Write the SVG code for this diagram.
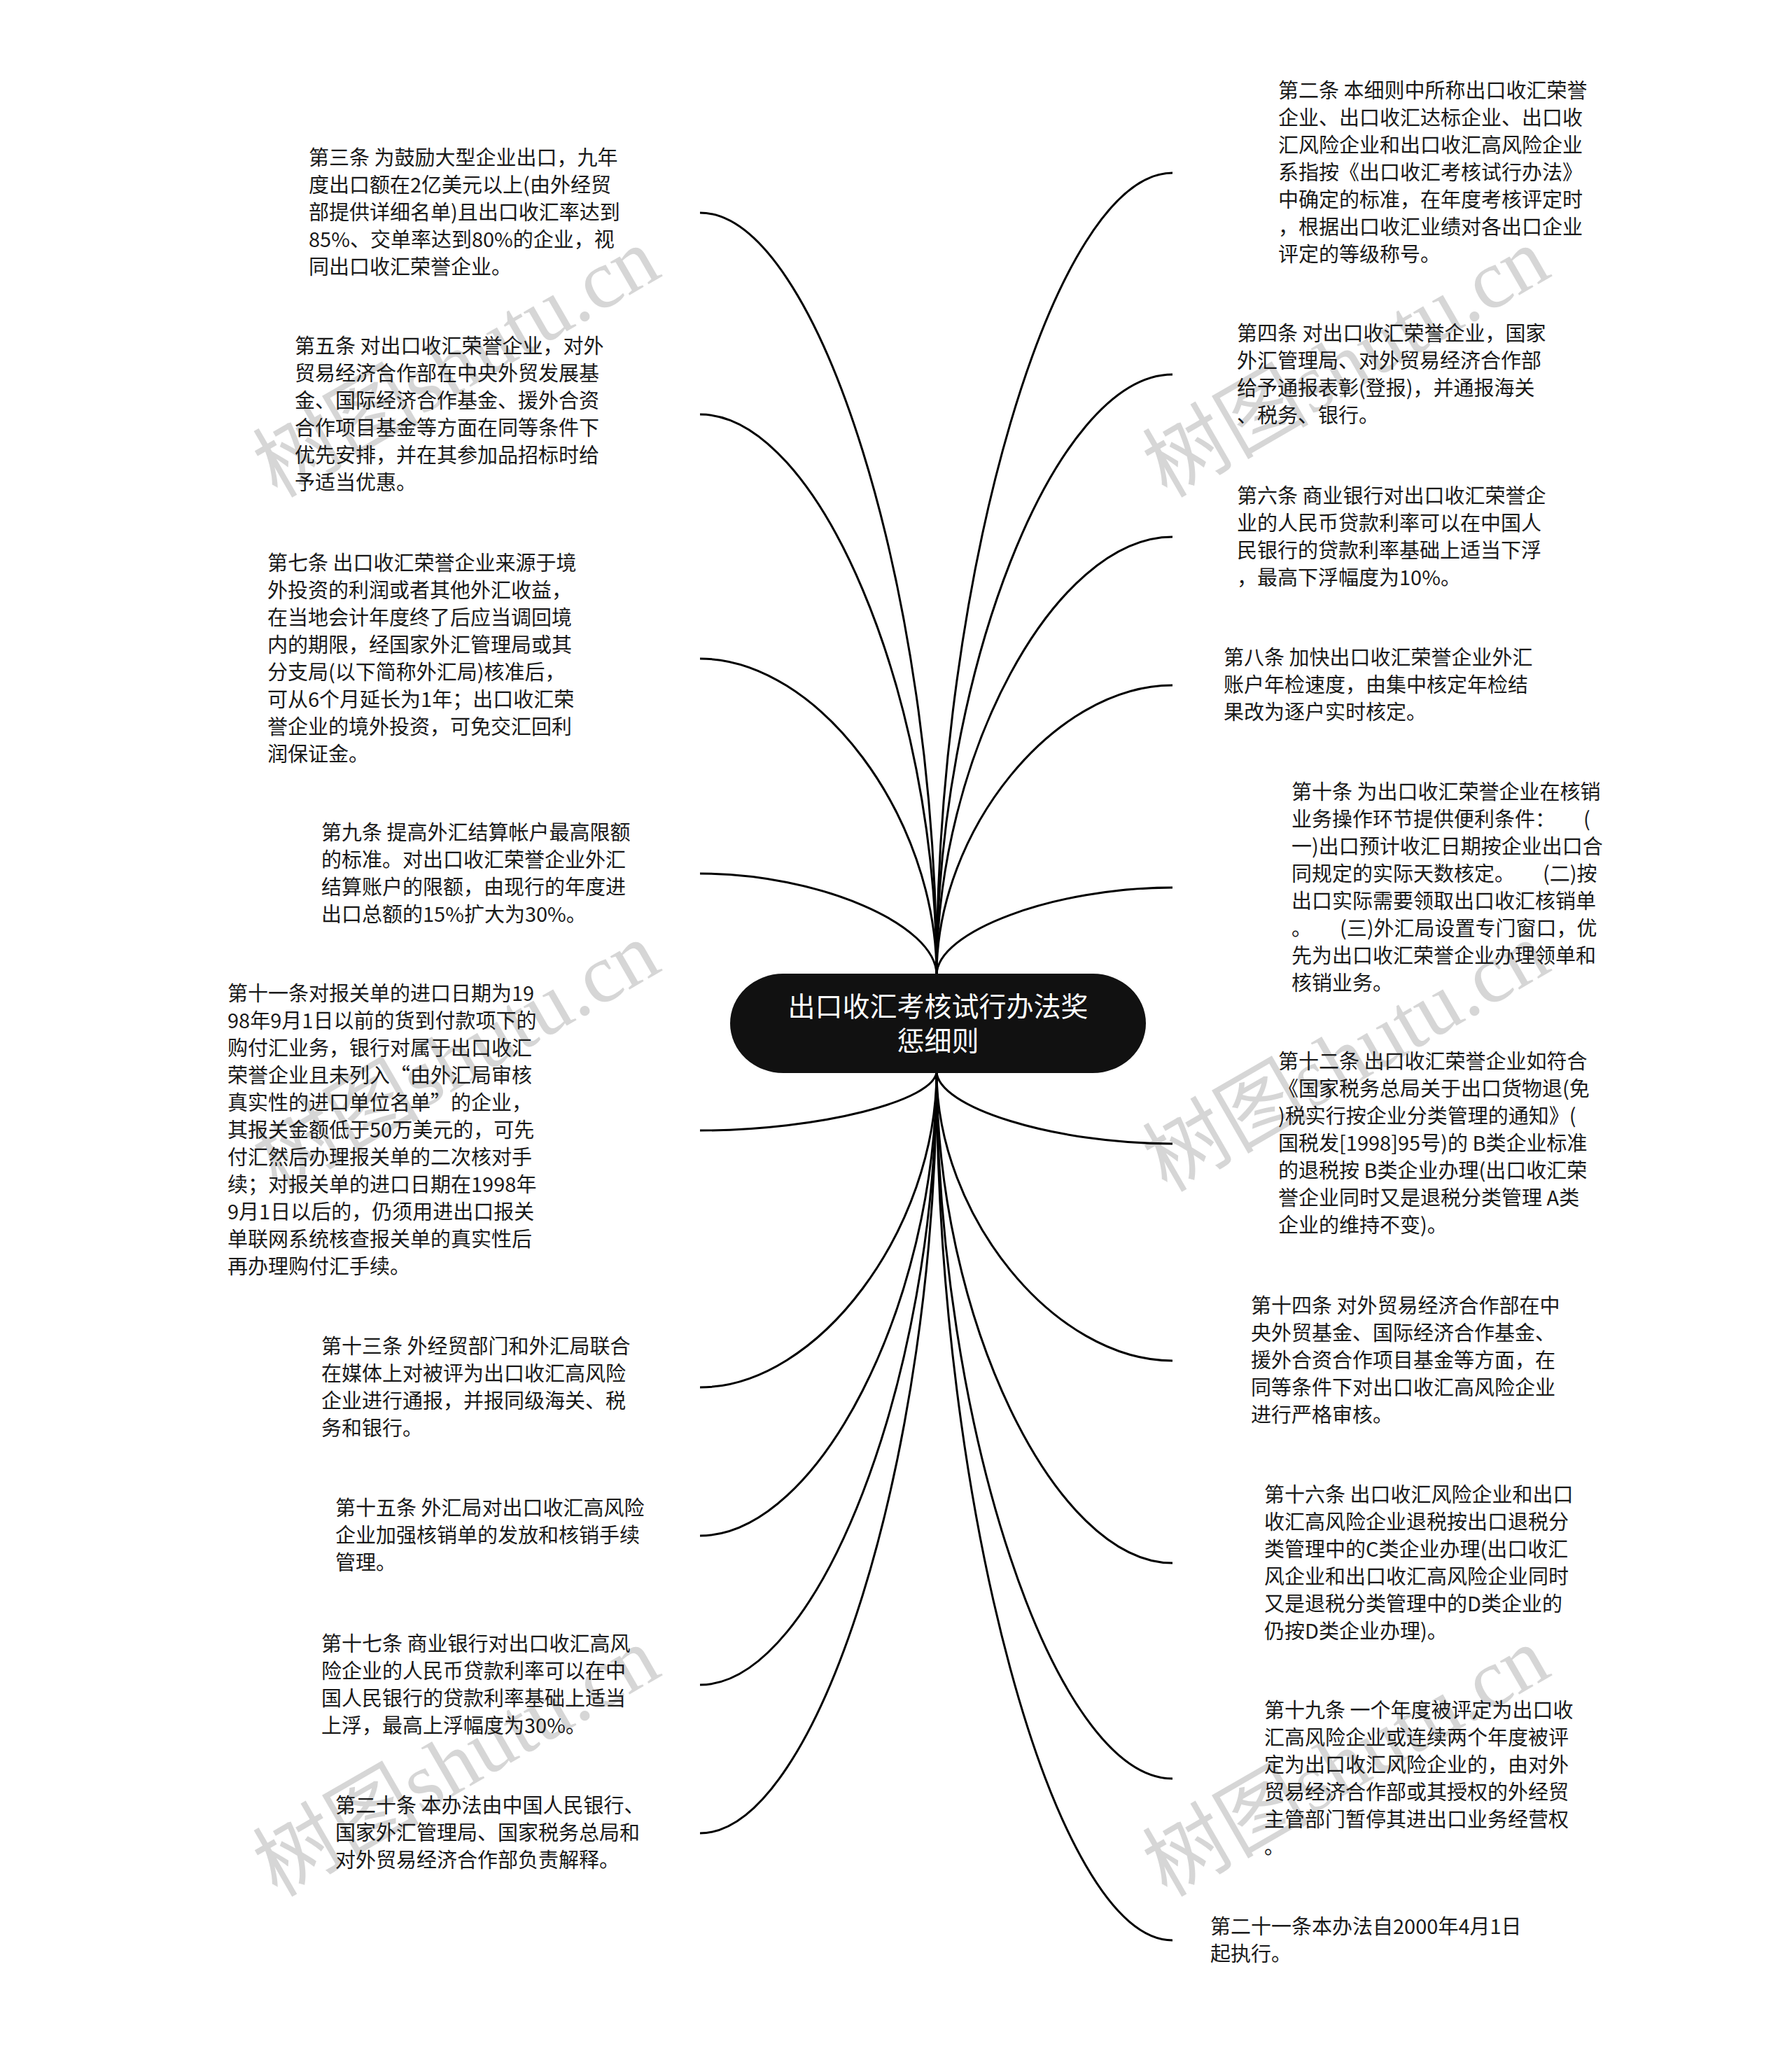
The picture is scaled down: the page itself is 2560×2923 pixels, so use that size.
<svg xmlns="http://www.w3.org/2000/svg" width="2560" height="2923" viewBox="0 0 2560 2923">
<style>
.bg{fill:#ffffff}
.wm{font-family:"Liberation Serif","Noto Sans CJK SC",serif;font-size:119px;fill:#d6d6d6}
.conn{fill:none;stroke:#000000;stroke-width:3}
.leaf{font-family:"Noto Sans CJK SC","Noto Sans",sans-serif;font-size:29px;fill:#1a1a1a}
.root-box{fill:#111111}
.root-text{font-family:"Noto Sans CJK SC","Noto Sans",sans-serif;font-size:39px;fill:#ffffff}
</style>
<rect class="bg" x="0" y="0" width="2560" height="2923"/>
<g id="watermarks">
<text class="wm" x="652" y="558" text-anchor="middle" transform="rotate(-30 652 518)">树图shutu.cn</text>
<text class="wm" x="1923" y="558" text-anchor="middle" transform="rotate(-30 1923 518)">树图shutu.cn</text>
<text class="wm" x="652" y="1550" text-anchor="middle" transform="rotate(-30 652 1510)">树图shutu.cn</text>
<text class="wm" x="1923" y="1550" text-anchor="middle" transform="rotate(-30 1923 1510)">树图shutu.cn</text>
<text class="wm" x="652" y="2557" text-anchor="middle" transform="rotate(-30 652 2517)">树图shutu.cn</text>
<text class="wm" x="1923" y="2557" text-anchor="middle" transform="rotate(-30 1923 2517)">树图shutu.cn</text>
</g>
<g id="connectors">
<path class="conn" d="M1000 304 C1169 304 1338 848.5 1338 1393"/>
<path class="conn" d="M1000 592 C1169 592 1338 992.5 1338 1393"/>
<path class="conn" d="M1000 941 C1169 941 1338 1167 1338 1393"/>
<path class="conn" d="M1000 1248 C1169 1248 1338 1320.5 1338 1393"/>
<path class="conn" d="M1000 1615 C1169 1615 1338 1572.5 1338 1530"/>
<path class="conn" d="M1000 1982 C1169 1982 1338 1756 1338 1530"/>
<path class="conn" d="M1000 2194 C1169 2194 1338 1862 1338 1530"/>
<path class="conn" d="M1000 2407 C1169 2407 1338 1968.5 1338 1530"/>
<path class="conn" d="M1000 2619 C1169 2619 1338 2074.5 1338 1530"/>
<path class="conn" d="M1675 247 C1506.5 247 1338 820 1338 1393"/>
<path class="conn" d="M1675 535 C1506.5 535 1338 964 1338 1393"/>
<path class="conn" d="M1675 767 C1506.5 767 1338 1080 1338 1393"/>
<path class="conn" d="M1675 979 C1506.5 979 1338 1186 1338 1393"/>
<path class="conn" d="M1675 1268 C1506.5 1268 1338 1330.5 1338 1393"/>
<path class="conn" d="M1675 1634 C1506.5 1634 1338 1582 1338 1530"/>
<path class="conn" d="M1675 1944 C1506.5 1944 1338 1737 1338 1530"/>
<path class="conn" d="M1675 2233 C1506.5 2233 1338 1881.5 1338 1530"/>
<path class="conn" d="M1675 2541 C1506.5 2541 1338 2035.5 1338 1530"/>
<path class="conn" d="M1675 2772 C1506.5 2772 1338 2151 1338 1530"/>
</g>
<g id="root">
<rect class="root-box" x="1043" y="1391" width="594" height="142" rx="76" ry="71"/>
<text class="root-text" text-anchor="middle" x="1340" y="1452">出口收汇考核试行办法奖</text>
<text class="root-text" text-anchor="middle" x="1340" y="1501">惩细则</text>
</g>
<g id="n3">
<text class="leaf"><tspan x="441" y="236">第三条 为鼓励大型企业出口，九年</tspan><tspan x="441" dy="39">度出口额在2亿美元以上(由外经贸</tspan><tspan x="441" dy="39">部提供详细名单)且出口收汇率达到</tspan><tspan x="441" dy="39">85%、交单率达到80%的企业，视</tspan><tspan x="441" dy="39">同出口收汇荣誉企业。</tspan></text>
</g>
<g id="n5">
<text class="leaf"><tspan x="421" y="504.5">第五条 对出口收汇荣誉企业，对外</tspan><tspan x="421" dy="39">贸易经济合作部在中央外贸发展基</tspan><tspan x="421" dy="39">金、国际经济合作基金、援外合资</tspan><tspan x="421" dy="39">合作项目基金等方面在同等条件下</tspan><tspan x="421" dy="39">优先安排，并在其参加品招标时给</tspan><tspan x="421" dy="39">予适当优惠。</tspan></text>
</g>
<g id="n7">
<text class="leaf"><tspan x="382" y="814.5">第七条 出口收汇荣誉企业来源于境</tspan><tspan x="382" dy="39">外投资的利润或者其他外汇收益，</tspan><tspan x="382" dy="39">在当地会计年度终了后应当调回境</tspan><tspan x="382" dy="39">内的期限，经国家外汇管理局或其</tspan><tspan x="382" dy="39">分支局(以下简称外汇局)核准后，</tspan><tspan x="382" dy="39">可从6个月延长为1年；出口收汇荣</tspan><tspan x="382" dy="39">誉企业的境外投资，可免交汇回利</tspan><tspan x="382" dy="39">润保证金。</tspan></text>
</g>
<g id="n9">
<text class="leaf"><tspan x="459" y="1199.5">第九条 提高外汇结算帐户最高限额</tspan><tspan x="459" dy="39">的标准。对出口收汇荣誉企业外汇</tspan><tspan x="459" dy="39">结算账户的限额，由现行的年度进</tspan><tspan x="459" dy="39">出口总额的15%扩大为30%。</tspan></text>
</g>
<g id="n11">
<text class="leaf"><tspan x="325" y="1430">第十一条对报关单的进口日期为19</tspan><tspan x="325" dy="39">98年9月1日以前的货到付款项下的</tspan><tspan x="325" dy="39">购付汇业务，银行对属于出口收汇</tspan><tspan x="325" dy="39">荣誉企业且未列入“由外汇局审核</tspan><tspan x="325" dy="39">真实性的进口单位名单”的企业，</tspan><tspan x="325" dy="39">其报关金额低于50万美元的，可先</tspan><tspan x="325" dy="39">付汇然后办理报关单的二次核对手</tspan><tspan x="325" dy="39">续；对报关单的进口日期在1998年</tspan><tspan x="325" dy="39">9月1日以后的，仍须用进出口报关</tspan><tspan x="325" dy="39">单联网系统核查报关单的真实性后</tspan><tspan x="325" dy="39">再办理购付汇手续。</tspan></text>
</g>
<g id="n13">
<text class="leaf"><tspan x="459" y="1933.5">第十三条 外经贸部门和外汇局联合</tspan><tspan x="459" dy="39">在媒体上对被评为出口收汇高风险</tspan><tspan x="459" dy="39">企业进行通报，并报同级海关、税</tspan><tspan x="459" dy="39">务和银行。</tspan></text>
</g>
<g id="n15">
<text class="leaf"><tspan x="479" y="2165">第十五条 外汇局对出口收汇高风险</tspan><tspan x="479" dy="39">企业加强核销单的发放和核销手续</tspan><tspan x="479" dy="39">管理。</tspan></text>
</g>
<g id="n17">
<text class="leaf"><tspan x="459" y="2358.5">第十七条 商业银行对出口收汇高风</tspan><tspan x="459" dy="39">险企业的人民币贷款利率可以在中</tspan><tspan x="459" dy="39">国人民银行的贷款利率基础上适当</tspan><tspan x="459" dy="39">上浮，最高上浮幅度为30%。</tspan></text>
</g>
<g id="n20">
<text class="leaf"><tspan x="479" y="2590">第二十条 本办法由中国人民银行、</tspan><tspan x="479" dy="39">国家外汇管理局、国家税务总局和</tspan><tspan x="479" dy="39">对外贸易经济合作部负责解释。</tspan></text>
</g>
<g id="n2">
<text class="leaf"><tspan x="1826" y="140">第二条 本细则中所称出口收汇荣誉</tspan><tspan x="1826" dy="39">企业、出口收汇达标企业、出口收</tspan><tspan x="1826" dy="39">汇风险企业和出口收汇高风险企业</tspan><tspan x="1826" dy="39">系指按《出口收汇考核试行办法》</tspan><tspan x="1826" dy="39">中确定的标准，在年度考核评定时</tspan><tspan x="1826" dy="39">，根据出口收汇业绩对各出口企业</tspan><tspan x="1826" dy="39">评定的等级称号。</tspan></text>
</g>
<g id="n4">
<text class="leaf"><tspan x="1767" y="486.5">第四条 对出口收汇荣誉企业，国家</tspan><tspan x="1767" dy="39">外汇管理局、对外贸易经济合作部</tspan><tspan x="1767" dy="39">给予通报表彰(登报)，并通报海关</tspan><tspan x="1767" dy="39">、税务、银行。</tspan></text>
</g>
<g id="n6">
<text class="leaf"><tspan x="1767" y="718.5">第六条 商业银行对出口收汇荣誉企</tspan><tspan x="1767" dy="39">业的人民币贷款利率可以在中国人</tspan><tspan x="1767" dy="39">民银行的贷款利率基础上适当下浮</tspan><tspan x="1767" dy="39">，最高下浮幅度为10%。</tspan></text>
</g>
<g id="n8">
<text class="leaf"><tspan x="1748" y="950">第八条 加快出口收汇荣誉企业外汇</tspan><tspan x="1748" dy="39">账户年检速度，由集中核定年检结</tspan><tspan x="1748" dy="39">果改为逐户实时核定。</tspan></text>
</g>
<g id="n10">
<text class="leaf"><tspan x="1845" y="1141.5">第十条 为出口收汇荣誉企业在核销</tspan><tspan x="1845" dy="39">业务操作环节提供便利条件：</tspan><tspan dx="40">(</tspan><tspan x="1845" dy="39">一)出口预计收汇日期按企业出口合</tspan><tspan x="1845" dy="39">同规定的实际天数核定。</tspan><tspan dx="40">(二)按</tspan><tspan x="1845" dy="39">出口实际需要领取出口收汇核销单</tspan><tspan x="1845" dy="39">。</tspan><tspan dx="40">(三)外汇局设置专门窗口，优</tspan><tspan x="1845" dy="39">先为出口收汇荣誉企业办理领单和</tspan><tspan x="1845" dy="39">核销业务。</tspan></text>
</g>
<g id="n12">
<text class="leaf"><tspan x="1826" y="1527">第十二条 出口收汇荣誉企业如符合</tspan><tspan x="1826" dy="39">《国家税务总局关于出口货物退(免</tspan><tspan x="1826" dy="39">)税实行按企业分类管理的通知》(</tspan><tspan x="1826" dy="39">国税发[1998]95号)的 B类企业标准</tspan><tspan x="1826" dy="39">的退税按 B类企业办理(出口收汇荣</tspan><tspan x="1826" dy="39">誉企业同时又是退税分类管理 A类</tspan><tspan x="1826" dy="39">企业的维持不变)。</tspan></text>
</g>
<g id="n14">
<text class="leaf"><tspan x="1787" y="1876">第十四条 对外贸易经济合作部在中</tspan><tspan x="1787" dy="39">央外贸基金、国际经济合作基金、</tspan><tspan x="1787" dy="39">援外合资合作项目基金等方面，在</tspan><tspan x="1787" dy="39">同等条件下对出口收汇高风险企业</tspan><tspan x="1787" dy="39">进行严格审核。</tspan></text>
</g>
<g id="n16">
<text class="leaf"><tspan x="1806" y="2145.5">第十六条 出口收汇风险企业和出口</tspan><tspan x="1806" dy="39">收汇高风险企业退税按出口退税分</tspan><tspan x="1806" dy="39">类管理中的C类企业办理(出口收汇</tspan><tspan x="1806" dy="39">风企业和出口收汇高风险企业同时</tspan><tspan x="1806" dy="39">又是退税分类管理中的D类企业的</tspan><tspan x="1806" dy="39">仍按D类企业办理)。</tspan></text>
</g>
<g id="n19">
<text class="leaf"><tspan x="1806" y="2453.5">第十九条 一个年度被评定为出口收</tspan><tspan x="1806" dy="39">汇高风险企业或连续两个年度被评</tspan><tspan x="1806" dy="39">定为出口收汇风险企业的，由对外</tspan><tspan x="1806" dy="39">贸易经济合作部或其授权的外经贸</tspan><tspan x="1806" dy="39">主管部门暂停其进出口业务经营权</tspan><tspan x="1806" dy="39">。</tspan></text>
</g>
<g id="n21">
<text class="leaf"><tspan x="1729" y="2762.5">第二十一条本办法自2000年4月1日</tspan><tspan x="1729" dy="39">起执行。</tspan></text>
</g>
</svg>
